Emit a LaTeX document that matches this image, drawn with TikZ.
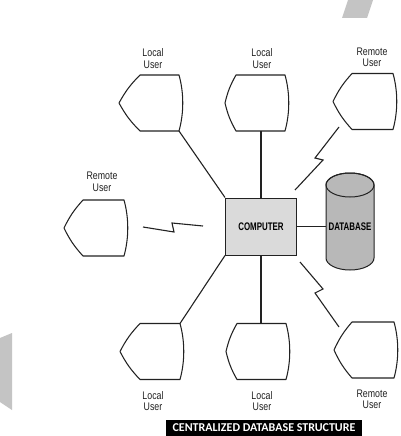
\documentclass[tikz,border=0pt]{standalone}
\usepackage{fontspec}
\setmainfont{Liberation Sans}
\newfontfamily\lblfont{Liberation Sans}[FakeStretch=0.8]
\newfontfamily\cmpfont{Liberation Sans}[FakeStretch=0.72]
\newfontfamily\ttlfont{Carlito}
\definecolor{ink}{HTML}{222222}
\definecolor{compfill}{HTML}{DADADA}
\definecolor{dbfill}{HTML}{B8B8B8}
\definecolor{smudge}{HTML}{C4C4C4}
\tikzset{
  usr/.style={draw=ink, line width=1.05pt, line join=round, fill=white},
  conn/.style={draw=ink, line width=1.1pt},
  bolt/.style={draw=ink, line width=1.1pt, line join=miter},
  lbl/.style={font=\lblfont\fontsize{11}{11.5}\selectfont, align=center, inner sep=0pt, text=ink},
  comp/.style={draw=ink, line width=1pt, fill=compfill, minimum width=71pt, minimum height=57pt, inner sep=0pt,
     font=\cmpfont\bfseries\fontsize{11}{11}\selectfont},
  dbtext/.style={minimum width=48pt, inner sep=0pt, font=\cmpfont\bfseries\fontsize{11}{11}\selectfont},
  ttl/.style={fill=black, text=white, minimum width=196pt, minimum height=16pt, inner sep=0pt,
     font=\ttlfont\bfseries\fontsize{12}{12}\selectfont}
}
\newcommand\drawuser[4]{% name, left x, mid y, left inset
  \coordinate (#1-l) at (#2,#3);
  \coordinate (#1-tl) at ({#2+#4},{#3-28});
  \coordinate (#1-tr) at ({#2+60},{#3-28});
  \coordinate (#1-br) at ({#2+60},{#3+28});
  \coordinate (#1-bl) at ({#2+#4},{#3+28});
  \draw[usr] (#1-tl) -- (#1-tr) .. controls ({#2+65},{#3-10}) and ({#2+65},{#3+10}) .. (#1-br)
     -- (#1-bl) to[bend left=8] (#1-l) to[bend left=8] (#1-tl) -- cycle;
}
\begin{document}
\begin{tikzpicture}[x=1pt,y=-1pt]
\useasboundingbox (0,0) rectangle (401,436);
\fill[white] (0,0) rectangle (401,436);
\fill[smudge] (348,0) -- (373,0) -- (367,18) -- (342,18) -- cycle;
\fill[smudge] (0,338) -- (12,333) -- (12,410) -- (0,402) -- cycle;

% users
\drawuser{ul}{119}{103}{21}
\drawuser{um}{225}{103}{11}
\drawuser{ur}{333}{101.5}{19}
\drawuser{lr}{64}{228}{19}
\drawuser{bl}{120}{351.5}{20}
\drawuser{bm}{226}{351.5}{11}
\drawuser{br}{334}{350}{18}

% labels
\node[lbl] (ulL) at (153,58.5) {Local\\User};
\node[lbl] (umL) at (262,58.5) {Local\\User};
\node[lbl] (urL) at (372,57.5) {Remote\\User};
\node[lbl] (lrL) at (102,182) {Remote\\User};
\node[lbl] (blL) at (153,401) {Local\\User};
\node[lbl] (bmL) at (262,401) {Local\\User};
\node[lbl] (brL) at (372,399.5) {Remote\\User};

% computer
\node[comp] (comp) at (261,226.5) {COMPUTER};

% database
\path[fill=dbfill, draw=ink, line width=1pt] (326,185) -- (326,258)
   arc[start angle=180, end angle=360, x radius=24pt, y radius=12pt]
   -- (374,185)
   arc[start angle=0, end angle=180, x radius=24pt, y radius=12pt] -- cycle;
\draw[ink, line width=1pt] (350,185) ellipse [x radius=24pt, y radius=12pt];
\node[dbtext] (db) at (350,226.5) {DATABASE};

% connectors
\draw[conn] (comp.east) -- (db.west);
\draw[conn] (ul-br) -- (comp.north west);
\draw[conn] (comp.north) -- (comp.north |- um-bl);
\draw[conn] (comp.south west) -- (bl-tr);
\draw[conn] (comp.south) -- (comp.south |- bm-tl);

% lightning links
\coordinate (z1a) at (339,127); \coordinate (z1b) at (315,158);
\coordinate (z1c) at (323,160); \coordinate (z1d) at (295,190);
\draw[bolt] (z1a) -- (z1b) -- (z1c) -- (z1d);
\coordinate (z2a) at (143,227); \coordinate (z2b) at (174,232);
\coordinate (z2c) at (172,223); \coordinate (z2d) at (203,226);
\draw[bolt] (z2a) -- (z2b) -- (z2c) -- (z2d);
\coordinate (z3a) at (300,262); \coordinate (z3b) at (323,289);
\coordinate (z3c) at (315,293); \coordinate (z3d) at (339,327);
\draw[bolt] (z3a) -- (z3b) -- (z3c) -- (z3d);

% title bar
\node[ttl] (ttl) at (264,428) {CENTRALIZED DATABASE STRUCTURE};
\end{tikzpicture}
\end{document}
